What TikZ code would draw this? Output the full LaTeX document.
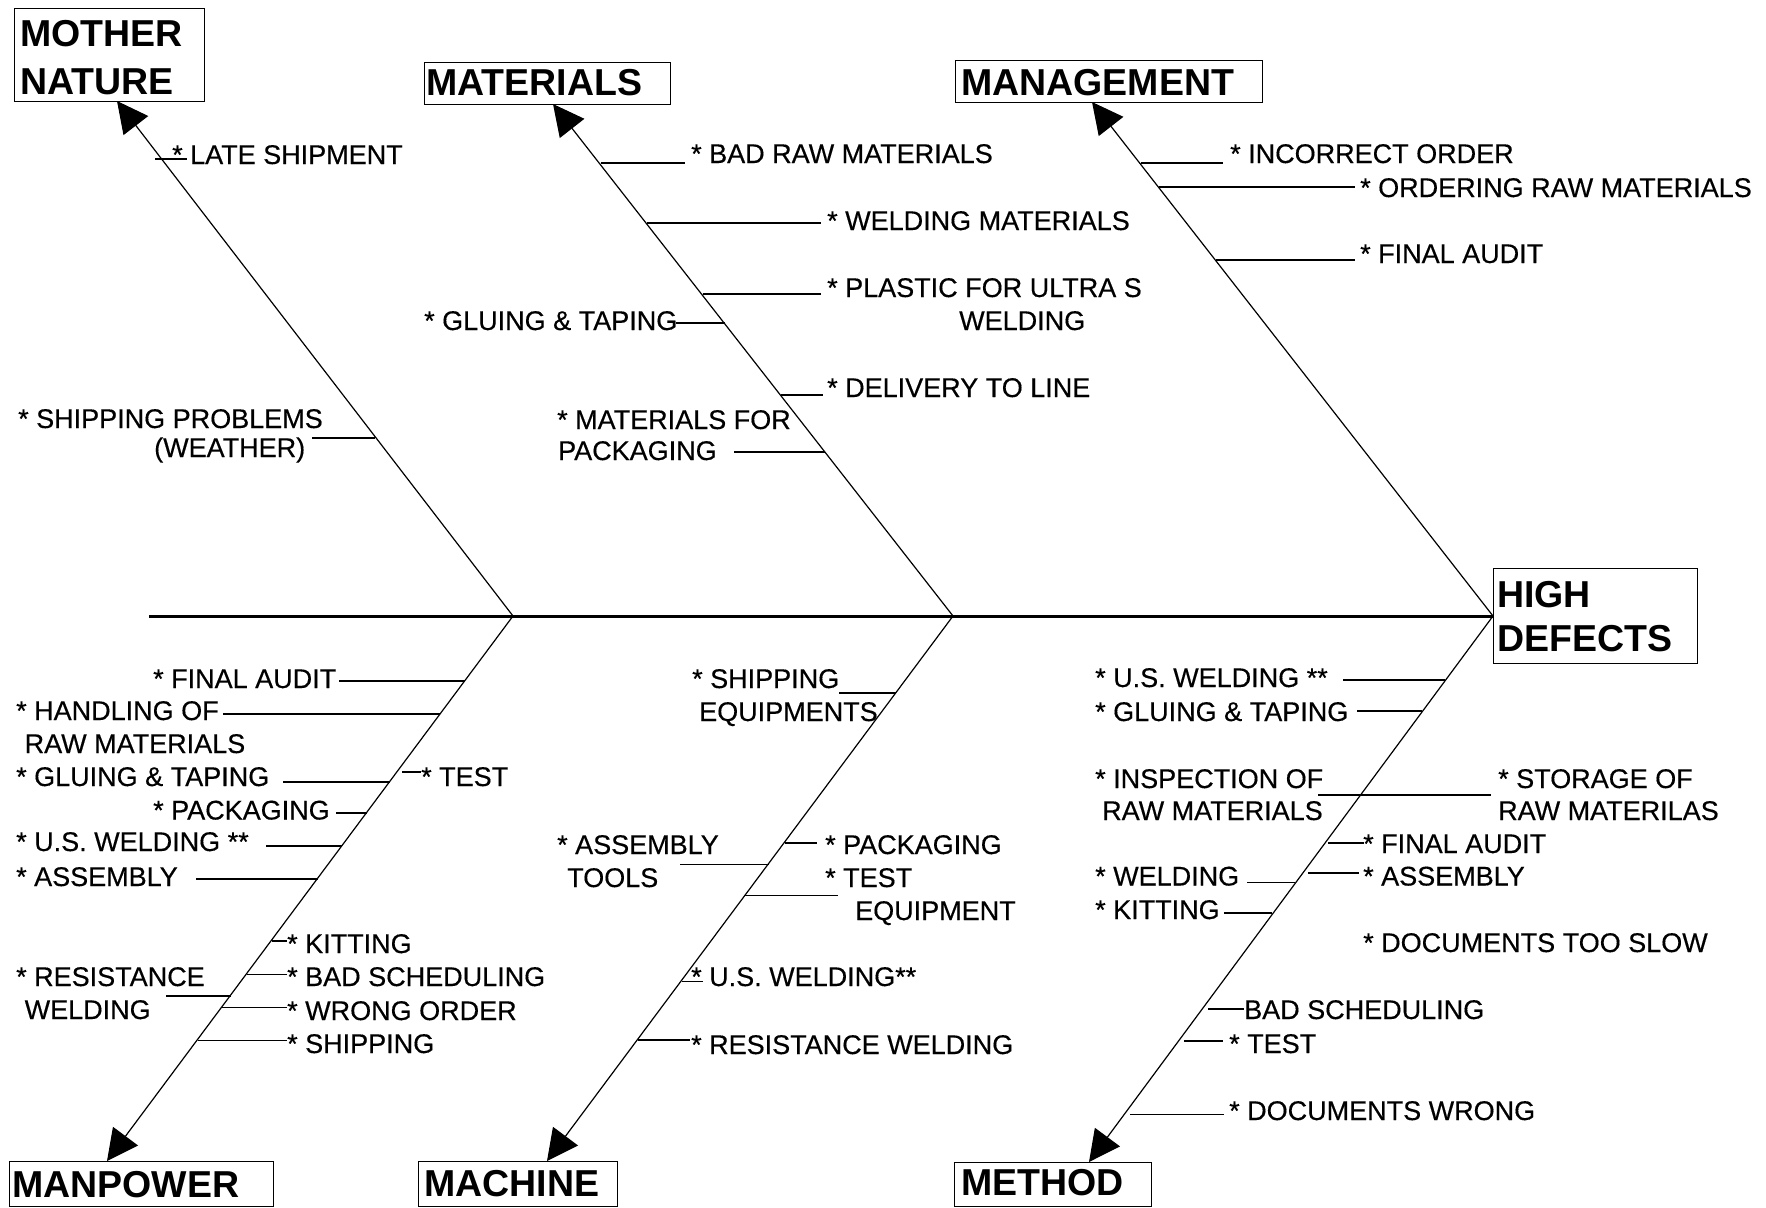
\documentclass[tikz,border=0pt]{standalone}
\usepackage{fontspec}
\setmainfont{Liberation Sans}
\newfontfamily\labfont[FakeBold=0.4]{Liberation Sans}
\usetikzlibrary{arrows.meta}
% horizontal twig from a main bone to its cause label
\newcommand{\fbtwig}[3]{\draw[twig] (#1,#3) -- (#2,#3);}
\begin{document}
\begin{tikzpicture}[x=1pt,y=-1pt,
  lab/.style={anchor=base west,inner sep=0pt,font=\labfont\fontsize{27}{30}\selectfont},
  ttl/.style={anchor=base west,inner sep=0pt,font=\fontsize{37.5}{40}\selectfont\bfseries},
  catbox/.style={draw,line width=1.4pt,inner sep=0pt,anchor=north west},
  bone/.style={line width=1.2pt,-{Triangle[length=31pt,width=31pt]}},
  twig/.style={line width=1.1pt},
  spine/.style={line width=3pt}]
\useasboundingbox (0,0) rectangle (1766,1207);

% ---------- category boxes ----------
\node[catbox,minimum width=190,minimum height=93] (mnbox) at (14,8) {};
\node[ttl] (mnt1) at (20,47) {MOTHER};
\node[ttl] (mnt2) at (20,94) {NATURE};

\node[catbox,minimum width=246,minimum height=42] (matbox) at (424,62) {};
\node[ttl] (matt) at (426,95) {MATERIALS};

\node[catbox,minimum width=307,minimum height=42] (manbox) at (955,60) {};
\node[ttl] (mant) at (961,95) {MANAGEMENT};

\node[catbox,minimum width=204,minimum height=95] (hdbox) at (1493,568) {};
\node[ttl] (hdt1) at (1497,607) {HIGH};
\node[ttl] (hdt2) at (1497,651.5) {DEFECTS};

\node[catbox,minimum width=264,minimum height=45] (mpbox) at (9,1161) {};
\node[ttl] (mpt) at (12,1197) {MANPOWER};

\node[catbox,minimum width=199,minimum height=45] (mcbox) at (418,1161) {};
\node[ttl] (mct) at (424,1196) {MACHINE};

\node[catbox,minimum width=197,minimum height=44] (mebox) at (954,1162) {};
\node[ttl] (met) at (961,1195) {METHOD};

% ---------- spine and main bones ----------
\coordinate (s0) at (149,616);
\coordinate (j1) at (513,616);
\coordinate (j2) at (953,616);
\coordinate (j3) at (1493,616);
\draw[spine] (s0) -- (j3);

\coordinate (tmn) at (117,101);
\coordinate (tmat) at (553,104);
\coordinate (tman) at (1092,102);
\coordinate (tmp) at (107,1161);
\coordinate (tmc) at (547,1161);
\coordinate (tme) at (1089,1162);
\draw[bone] (j1) -- (tmn);
\draw[bone] (j2) -- (tmat);
\draw[bone] (j3) -- (tman);
\draw[bone] (j1) -- (tmp);
\draw[bone] (j2) -- (tmc);
\draw[bone] (j3) -- (tme);

% ---------- mother nature ----------
\node[lab] (a1) at (172,164) {* LATE SHIPMENT};
\fbtwig{155}{187}{159}
\node[lab] (a2) at (18,428) {* SHIPPING PROBLEMS};
\node[lab] (a3) at (154,457) {(WEATHER)};
\fbtwig{312}{374.5}{438}

% ---------- materials ----------
\node[lab] (b1) at (691,163) {* BAD RAW MATERIALS};
\fbtwig{600.5}{685}{163}
\node[lab] (b2) at (827,230) {* WELDING MATERIALS};
\fbtwig{647}{821}{223}
\node[lab] (b3) at (827,297) {* PLASTIC FOR ULTRA S};
\node[lab] (b4) at (959,330) {WELDING};
\fbtwig{702.5}{821}{294}
\node[lab] (b5) at (424,330) {* GLUING \& TAPING};
\fbtwig{676}{725}{323}
\node[lab] (b6) at (827,397) {* DELIVERY TO LINE};
\fbtwig{781}{823}{395}
\node[lab] (b7) at (557,429) {* MATERIALS FOR};
\node[lab] (b8) at (558,460) {PACKAGING};
\fbtwig{734}{825}{452}

% ---------- management ----------
\node[lab] (c1) at (1230,163) {* INCORRECT ORDER};
\fbtwig{1140.5}{1223}{163}
\node[lab] (c2) at (1360,197) {* ORDERING RAW MATERIALS};
\fbtwig{1159}{1355}{187}
\node[lab] (c3) at (1360,263) {* FINAL AUDIT};
\fbtwig{1216}{1355}{260}

% ---------- manpower ----------
\node[lab] (d1) at (153,688) {* FINAL AUDIT};
\fbtwig{339}{464.5}{681}
\node[lab] (d2) at (16,720) {* HANDLING OF};
\node[lab] (d3) at (24.5,753) {RAW MATERIALS};
\fbtwig{223}{440}{714}
\node[lab] (d4) at (16,786) {* GLUING \& TAPING};
\fbtwig{283}{390}{782}
\node[lab] (d5) at (421,786) {* TEST};
\fbtwig{402}{421}{772}
\node[lab] (d6) at (153,819.5) {* PACKAGING};
\fbtwig{336}{366.5}{813}
\node[lab] (d7) at (16,851) {* U.S. WELDING **};
\fbtwig{266}{342}{846}
\node[lab] (d8) at (16,886) {* ASSEMBLY};
\fbtwig{196}{317.5}{879}
\node[lab] (d9) at (287,953) {* KITTING};
\fbtwig{271.5}{287}{941}
\node[lab] (d10) at (16,986) {* RESISTANCE};
\node[lab] (d11) at (24.5,1019) {WELDING};
\fbtwig{166}{230.5}{996}
\node[lab] (d12) at (287,986) {* BAD SCHEDULING};
\fbtwig{246.5}{287}{974.5}
\node[lab] (d13) at (287,1020) {* WRONG ORDER};
\fbtwig{222}{287}{1007.5}
\node[lab] (d14) at (287,1053) {* SHIPPING};
\fbtwig{197.5}{287}{1040.5}

% ---------- machine ----------
\node[lab] (e1) at (692,688) {* SHIPPING};
\node[lab] (e2) at (699,721) {EQUIPMENTS};
\fbtwig{839}{896}{693}
\node[lab] (e3) at (557,854) {* ASSEMBLY};
\node[lab] (e4) at (567,887) {TOOLS};
\fbtwig{680}{768.5}{864.5}
\node[lab] (e5) at (825,854) {* PACKAGING};
\fbtwig{784.5}{817}{843}
\node[lab] (e6) at (825,887) {* TEST};
\node[lab] (e7) at (855,920) {EQUIPMENT};
\fbtwig{745}{838}{895.5}
\node[lab] (e8) at (691,986) {* U.S. WELDING**};
\fbtwig{681.5}{703}{981.5}
\node[lab] (e9) at (691,1054) {* RESISTANCE WELDING};
\fbtwig{638}{690}{1040}

% ---------- method ----------
\node[lab] (f1) at (1095,687) {* U.S. WELDING **};
\fbtwig{1343}{1445}{680}
\node[lab] (f2) at (1095,721) {* GLUING \& TAPING};
\fbtwig{1357}{1422}{711}
\node[lab] (f3) at (1095,788) {* INSPECTION OF};
\node[lab] (f4) at (1102,820) {RAW MATERIALS};
\fbtwig{1318}{1491}{795}
\node[lab] (f5) at (1498,788) {* STORAGE OF};
\node[lab] (f6) at (1498,820) {RAW MATERILAS};
\node[lab] (f7) at (1363,853) {* FINAL AUDIT};
\fbtwig{1328}{1364}{843}
\node[lab] (f8) at (1363,885.5) {* ASSEMBLY};
\fbtwig{1308}{1359}{873}
\node[lab] (f9) at (1095,885.5) {* WELDING};
\fbtwig{1247}{1295}{882.5}
\node[lab] (f10) at (1095,919) {* KITTING};
\fbtwig{1224}{1272}{913}
\node[lab] (f11) at (1363,952) {* DOCUMENTS TOO SLOW};
\node[lab] (f12) at (1244,1019) {BAD SCHEDULING};
\fbtwig{1208}{1244}{1009}
\node[lab] (f13) at (1229,1053) {* TEST};
\fbtwig{1184}{1223}{1041}
\node[lab] (f14) at (1229,1120) {* DOCUMENTS WRONG};
\fbtwig{1130}{1224}{1114.5}
\end{tikzpicture}
\end{document}
